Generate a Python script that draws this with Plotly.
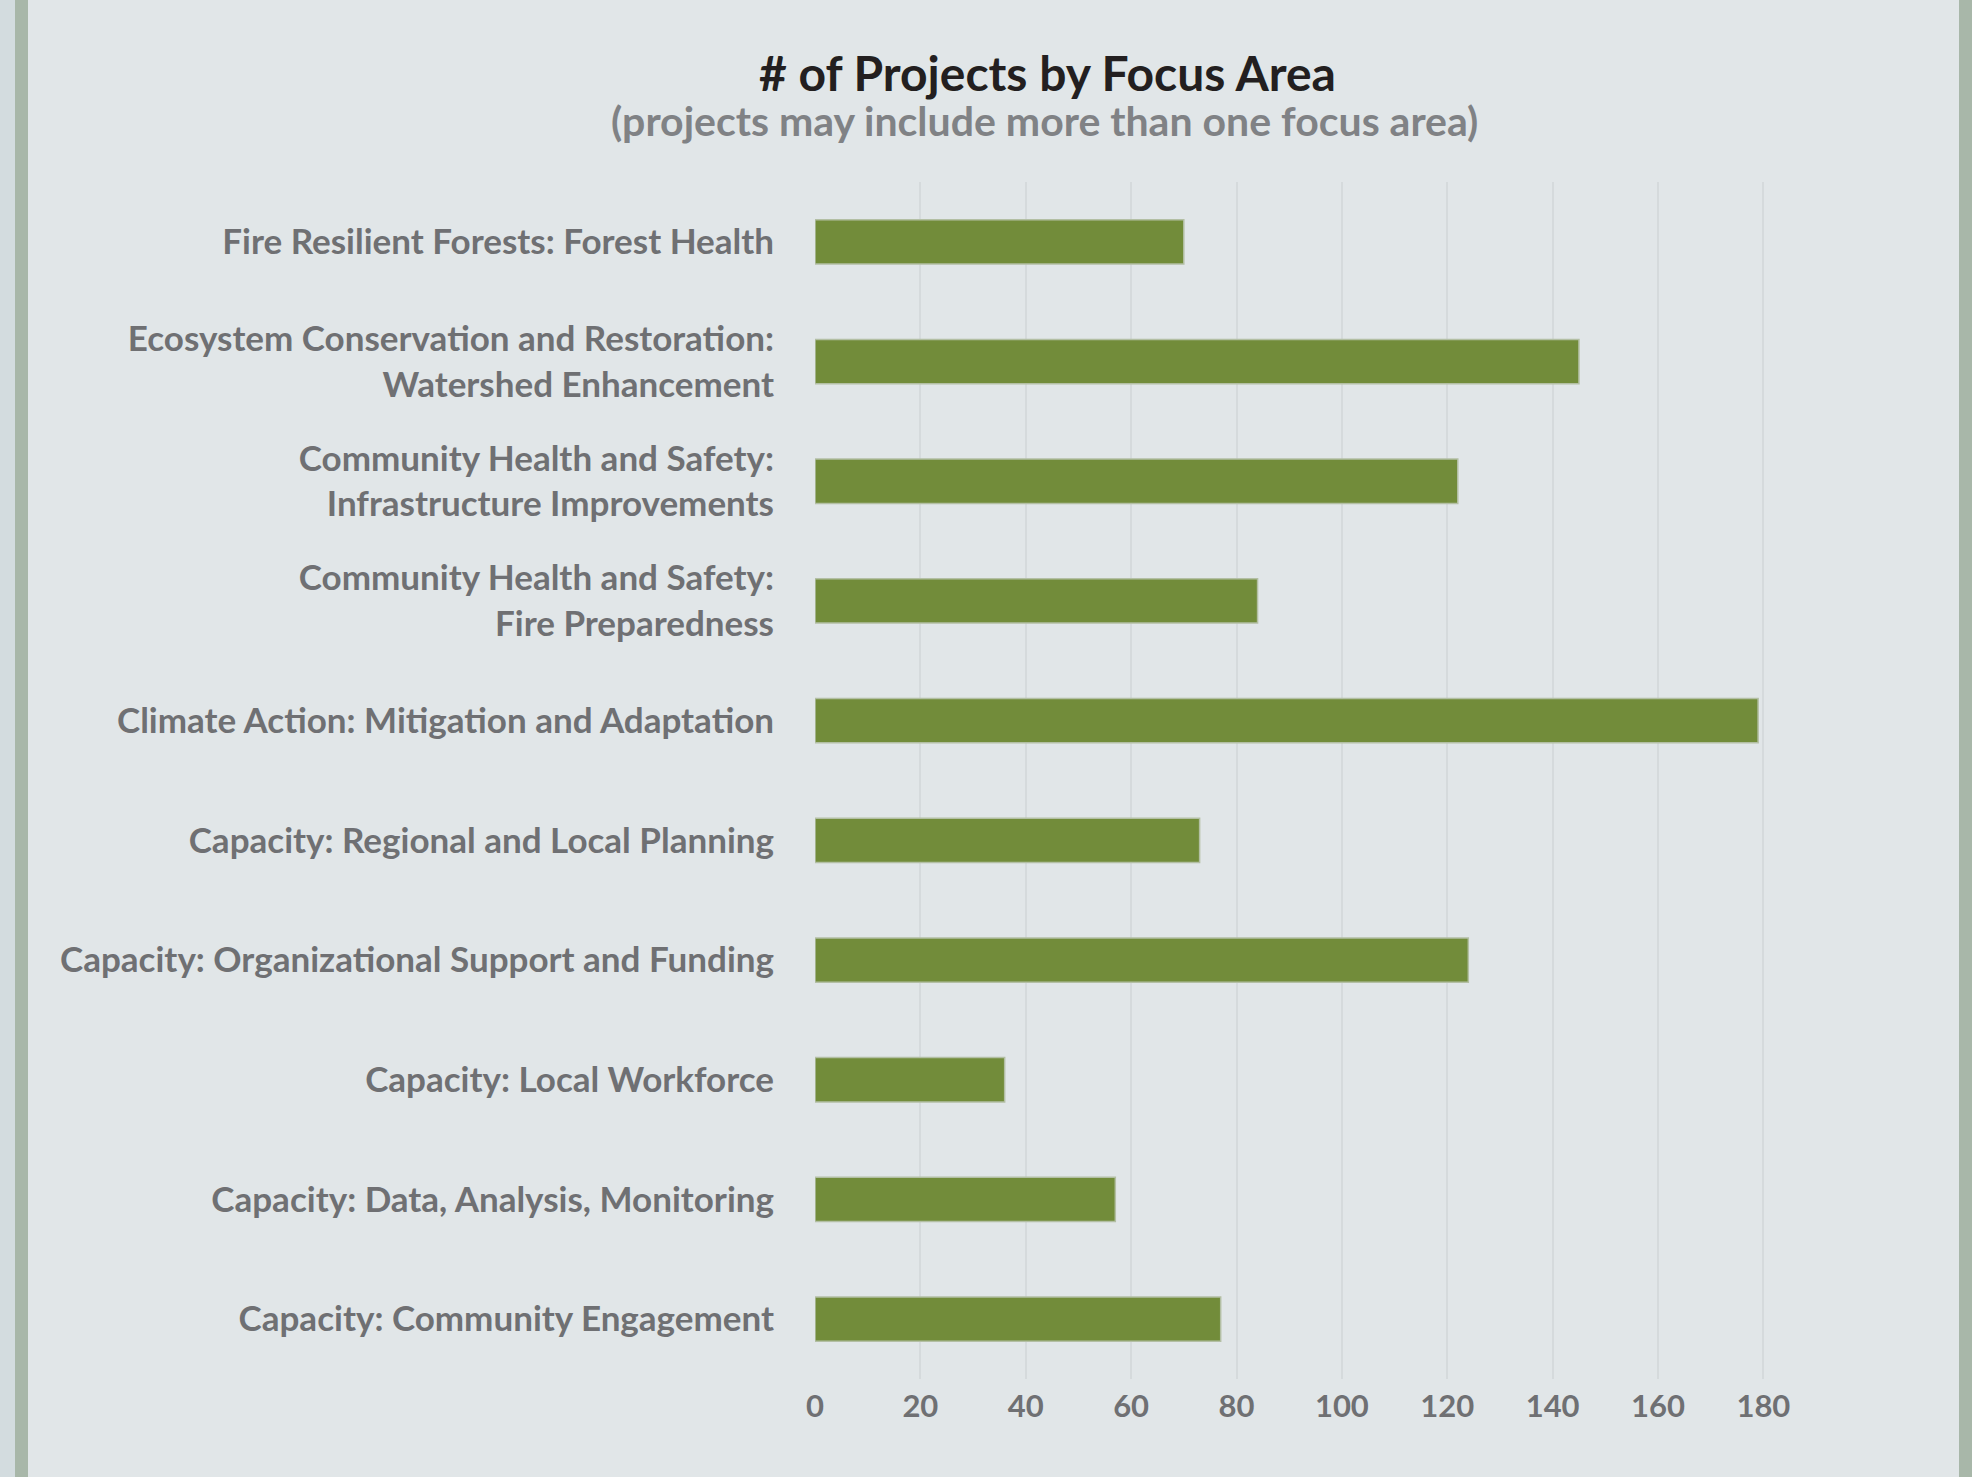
import plotly.graph_objects as go

categories = [
    "Fire Resilient Forests: Forest Health",
    "Ecosystem Conservation and Restoration:<br>Watershed Enhancement",
    "Community Health and Safety:<br>Infrastructure Improvements",
    "Community Health and Safety:<br>Fire Preparedness",
    "Climate Action: Mitigation and Adaptation",
    "Capacity: Regional and Local Planning",
    "Capacity: Organizational Support and Funding",
    "Capacity: Local Workforce",
    "Capacity: Data, Analysis, Monitoring",
    "Capacity: Community Engagement",
]
projects = [70, 145, 122, 84, 179, 73, 124, 36, 57, 77]
tick_values = [0, 20, 40, 60, 80, 100, 120, 140, 160, 180]

title_text = "# of Projects by Focus Area"
subtitle_text = "(projects may include more than one focus area)"

# layout constants (pixels)
W, H = 1972, 1477
L, R, T, B = 815, 206, 182, 98
PW = W - L - R
PH = H - T - B

def px_x(px):
    return (px - L) / PW

def px_y(py):
    return 1 - (py - T) / PH

BG = "#e1e6e8"
BAR = "#728c3a"
GRAY = "#6f7073"
FONT = "Lato"

fig = go.Figure()
fig.add_trace(go.Bar(
    y=categories,
    x=projects,
    orientation="h",
    width=0.37,
    marker=dict(color=BAR, line=dict(color="#b3bfa4", width=1.5)),
    hoverinfo="x+y",
))

fig.update_layout(
    width=W, height=H,
    margin=dict(l=L, r=R, t=T, b=B, autoexpand=False),
    paper_bgcolor=BG,
    plot_bgcolor=BG,
    showlegend=False,
    font=dict(family=FONT, color=GRAY),
    xaxis=dict(
        range=[0, 180.5],
        tickvals=tick_values,
        showgrid=True,
        gridcolor="#d5dadc",
        gridwidth=1.5,
        zeroline=False,
        showline=False,
        ticks="",
        tickfont=dict(family=FONT, size=31, color=GRAY, weight=700),
        ticklabelstandoff=6,
    ),
    yaxis=dict(
        categoryorder="array",
        categoryarray=categories,
        range=[9.5, -0.5],
        showgrid=False,
        zeroline=False,
        showline=False,
        ticks="",
        tickfont=dict(family=FONT, size=35, color=GRAY, weight=700),
        ticklabelstandoff=40,
    ),
    shapes=[
        dict(type="rect", xref="paper", yref="paper",
             x0=px_x(0), x1=px_x(15), y0=px_y(H), y1=px_y(0),
             fillcolor="#d3dcdf", line=dict(width=0), layer="below"),
        dict(type="rect", xref="paper", yref="paper",
             x0=px_x(15), x1=px_x(28), y0=px_y(H), y1=px_y(0),
             fillcolor="#a8b7a9", line=dict(width=0), layer="below"),
        dict(type="rect", xref="paper", yref="paper",
             x0=px_x(1959), x1=px_x(W), y0=px_y(H), y1=px_y(0),
             fillcolor="#a8b7a9", line=dict(width=0), layer="below"),
    ],
    annotations=[
        dict(text=title_text, xref="paper", yref="paper",
             x=px_x(1047), y=px_y(73), xanchor="center", yanchor="middle",
             showarrow=False,
             font=dict(family=FONT, size=48, color="#231f20", weight=700)),
        dict(text=subtitle_text, xref="paper", yref="paper",
             x=px_x(1044), y=px_y(121), xanchor="center", yanchor="middle",
             showarrow=False,
             font=dict(family=FONT, size=41, color="#808285", weight=700)),
    ],
)

fig.write_html(
    "out.html",
    config={"displayModeBar": False},
    post_script="document.body.style.margin='0';document.body.style.background='" + BG + "';",
)
